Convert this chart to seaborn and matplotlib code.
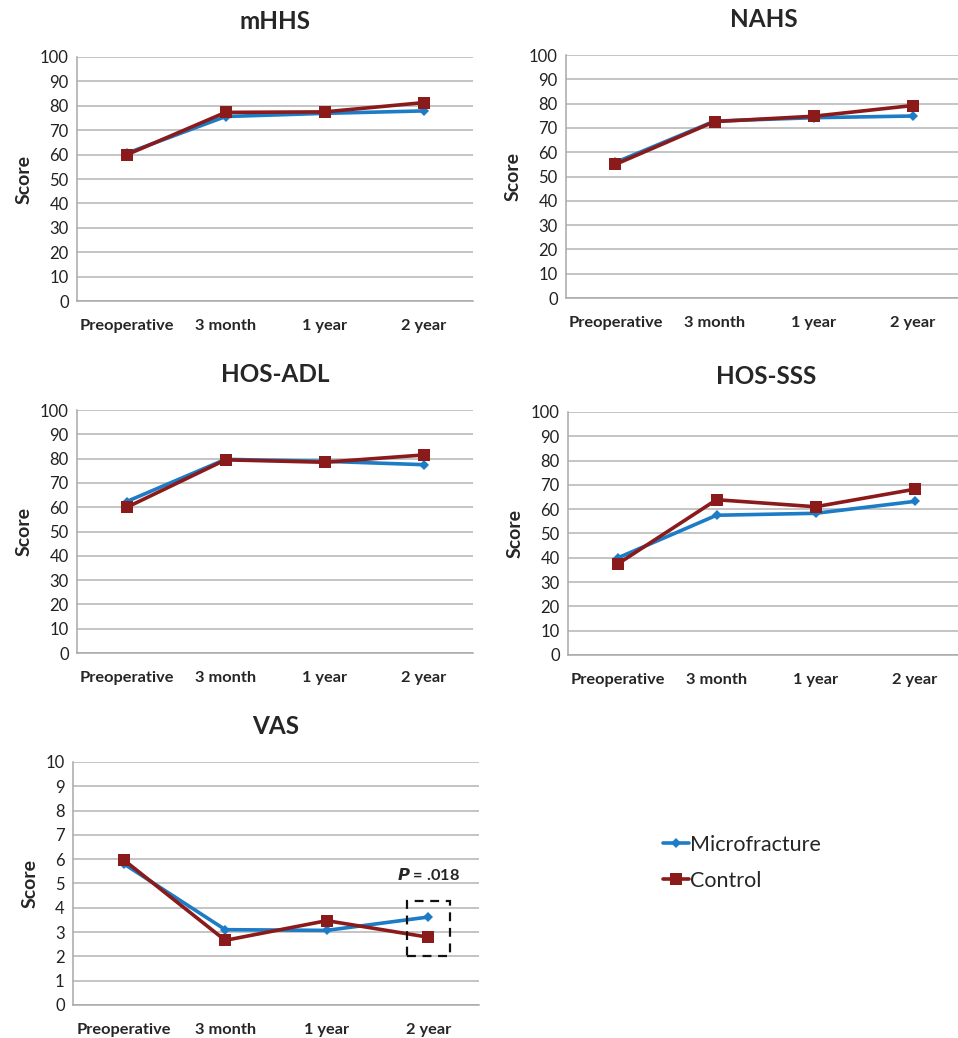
import matplotlib
matplotlib.use("Agg")
import matplotlib.pyplot as plt
import seaborn as sns
import pandas as pd
from matplotlib.patches import Rectangle

sns.set_theme(style="white")
plt.rcParams['font.family'] = ['Lato', 'DejaVu Sans']

timepoints = ["Preoperative", "3 month", "1 year", "2 year"]
groups = ["Microfracture", "Control"]

mhhs_micro = [60.5, 75.6, 76.9, 77.9]
mhhs_ctrl = [59.9, 77.3, 77.5, 81.3]
nahs_micro = [55.8, 72.8, 74.2, 74.9]
nahs_ctrl = [55.0, 72.6, 74.8, 79.2]
hosadl_micro = [62.3, 79.7, 78.9, 77.5]
hosadl_ctrl = [59.9, 79.5, 78.5, 81.5]
hossss_micro = [39.9, 57.5, 58.3, 63.2]
hossss_ctrl = [37.4, 63.9, 61.0, 68.2]
vas_micro = [5.81, 3.10, 3.07, 3.62]
vas_ctrl = [5.97, 2.66, 3.47, 2.79]

panels = [
    ("mHHS", mhhs_micro, mhhs_ctrl, 100, 10, [0.0804, 0.710, 0.4134, 0.2351]),
    ("NAHS", nahs_micro, nahs_ctrl, 100, 10, [0.5908, 0.7129, 0.4134, 0.2341]),
    ("HOS-ADL", hosadl_micro, hosadl_ctrl, 100, 10, [0.0804, 0.3709, 0.4134, 0.2341]),
    ("HOS-SSS", hossss_micro, hossss_ctrl, 100, 10, [0.5929, 0.369, 0.4134, 0.2341]),
    ("VAS", vas_micro, vas_ctrl, 10, 1, [0.0762, 0.0318, 0.4238, 0.2341]),
]

palette = {"Microfracture": "#1c7cc6", "Control": "#8b1a1a"}
markers = {"Microfracture": "D", "Control": "s"}
sizes = {"Microfracture": 5, "Control": 8}

fig = plt.figure(figsize=(9.58, 10.38), dpi=100)

axes = []
for title, micro, ctrl, ymax, step, pos in panels:
    ax = fig.add_axes(pos)
    axes.append(ax)
    for g, vals in (("Microfracture", micro), ("Control", ctrl)):
        df = pd.DataFrame({"Time": timepoints, "Score": vals, "Group": g})
        sns.lineplot(data=df, x="Time", y="Score", color=palette[g], lw=2.6,
                     marker=markers[g], markersize=sizes[g], markeredgewidth=0,
                     label=g, ax=ax, sort=False)
    ax.set_xlim(-0.5, 3.5)
    ax.set_ylim(0, ymax)
    ax.set_yticks([i * step for i in range(11)])
    ax.yaxis.grid(True, color="#b4b4b4", lw=1.1)
    ax.set_axisbelow(True)
    for s in ("top", "right"):
        ax.spines[s].set_visible(False)
    for s in ("left", "bottom"):
        ax.spines[s].set_color("#a8a8a8")
        ax.spines[s].set_linewidth(1.1)
    ax.tick_params(axis="both", length=0, pad=6)
    ax.tick_params(axis="y", labelsize=12, colors="#222222")
    ax.set_xticks(range(4))
    ax.set_xticklabels(timepoints, fontsize=11.8, fontweight="bold")
    ax.tick_params(axis="x", pad=13)
    ax.set_xlabel("")
    ax.set_ylabel("Score", fontsize=14, fontweight="bold", labelpad=5)
    ax.set_title(title, fontsize=17.5, fontweight="bold", pad=20)
    ax.get_legend().remove()

vas_ax = axes[-1]
vas_ax.add_patch(Rectangle((2.79, 2.0), 0.42, 2.3, fill=False, ls=(0, (4, 3)),
                           lw=1.6, ec="#111111", zorder=5))
vas_ax.text(3.0, 5.33, r"$\bfit{P}$ = .018", ha="center", va="center",
            fontsize=11.8, fontweight="bold")

handles, labels = axes[0].get_legend_handles_labels()
fig.legend(handles, labels, loc="center left", bbox_to_anchor=(0.672, 0.169),
           frameon=False, fontsize=15.5, handlelength=1.2, handletextpad=0.05,
           labelspacing=0.75)

fig.savefig("out.png", dpi=100)
